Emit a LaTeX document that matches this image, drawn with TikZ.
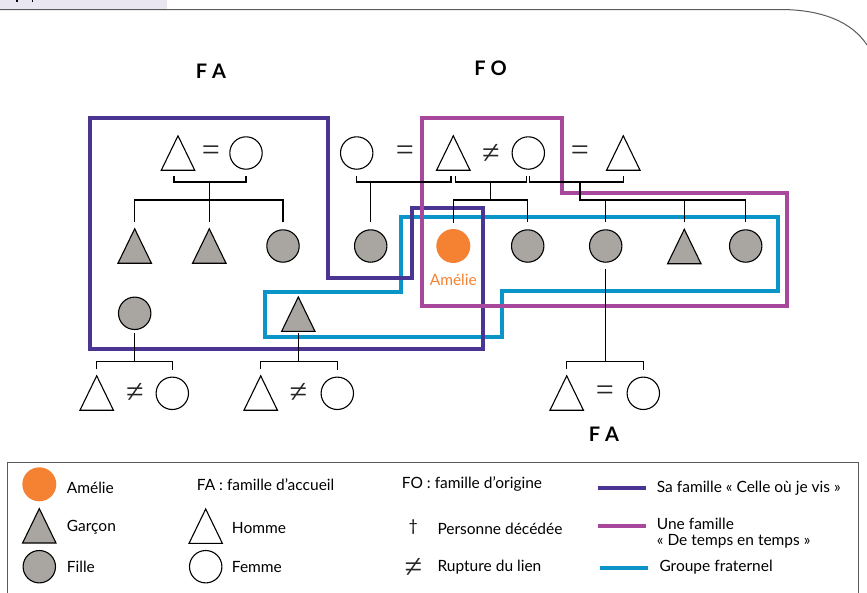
\documentclass[tikz,border=0pt]{standalone}
\usepackage{fontspec}
\setmainfont{Lato}
\newfontfamily\symfont{Liberation Serif}
\usetikzlibrary{calc}
\definecolor{famP}{HTML}{4B3592}
\definecolor{famM}{HTML}{A8489D}
\definecolor{famB}{HTML}{0A94C8}
\definecolor{orgA}{HTML}{F58233}
\definecolor{grayF}{HTML}{A9A5A1}
\definecolor{lav}{HTML}{E9E6F2}
\definecolor{frameG}{HTML}{5A5A5A}
\newcommand{\Tri}[3]{%
  \node[tribox] (#1) at (#2) {};
  \filldraw[symline, fill=#3] (#1.south west) -- (#1.north) -- (#1.south east) -- cycle;}
\begin{document}
\begin{tikzpicture}[x=1pt,y=-1pt,
  symline/.style={draw=black, line width=1.1pt, line join=miter},
  fem/.style={circle, draw=black, line width=1.1pt, minimum size=32.4pt, inner sep=0pt, fill=white},
  girl/.style={fem, fill=grayF},
  me/.style={circle, fill=orgA, minimum size=34pt, inner sep=0pt},
  tribox/.style={minimum width=33pt, minimum height=34pt, inner sep=0pt},
  link/.style={draw=black, line width=1.1pt},
  boxline/.style={line width=4pt, line join=miter},
  rel/.style={font=\symfont\fontsize{32}{32}\selectfont, inner sep=0pt, text=black!85},
  lbl/.style={font=\fontsize{15.5}{16}\selectfont, anchor=west, inner sep=0pt},
  head/.style={font=\fontsize{20}{20}\selectfont\bfseries, inner sep=0pt}]
\useasboundingbox (0,0) rectangle (867,592);

% page header
\fill[lav] (0,0) rectangle (167,9);
\fill[black] (16,0) rectangle (17.6,2.3);
\fill[black] (31.5,0) rectangle (33.1,2.3);
\draw[frameG, line width=1pt] (0,9.5) -- (780,9.5) .. controls (822,9.5) and (852,22) .. (867,45);

% family boxes
\draw[famB, boxline] (401,217) -- (778,217) -- (778,291) -- (502,291) -- (502,337) -- (265,337) -- (265,292) -- (401,292) -- cycle;
\draw[famP, boxline] (90,118) -- (328,118) -- (328,278) -- (412,278) -- (412,208) -- (483,208) -- (483,349) -- (90,349) -- cycle;
\draw[famM, boxline] (422,118) -- (562,118) -- (562,193) -- (787,193) -- (787,306) -- (422,306) -- cycle;

% labels
\node[head] (hFA) at (211,71) {F A};
\node[head] (hFO) at (490.5,68.5) {F O};
\node[head] (hFA2) at (604,434) {F A};

% row 1
\Tri{A1}{178,153}{white}
\node[rel] (eqA) at (211,153) {=};
\node[fem] (A2) at (246,153) {};
\node[fem] (B0) at (356.7,153) {};
\node[rel] (eqB) at (405,153) {=};
\Tri{B1}{453.3,153}{white}
\node[rel] (neB) at (491,154) {≠};
\node[fem] (B2) at (528.3,153) {};
\node[rel] (eqC) at (580,153) {=};
\Tri{B3}{623.3,153}{white}

% row 2
\Tri{C1}{134.7,246}{grayF}
\Tri{C2}{209.3,246}{grayF}
\node[girl] (C3) at (283,246) {};
\node[girl] (D) at (370.7,246) {};
\node[me] (Am) at (453.3,246) {};
\node[orgA, font=\fontsize{15.5}{17}\selectfont, inner sep=0pt] (AmL) at (453.3,280) {Amélie};
\node[girl] (E1) at (527.7,246) {};
\node[girl] (E2) at (605.7,246) {};
\Tri{E3}{684.3,246.5}{grayF}
\node[girl] (E4) at (745.7,246) {};

% row 3
\node[girl] (F1) at (134.7,313.3) {};
\Tri{F2}{298.3,314.2}{grayF}

% row 4
\Tri{G1}{96.7,393}{white}
\node[rel] (neG) at (135,393) {≠};
\node[fem] (G2) at (172.3,393.3) {};
\Tri{H1}{260.7,393}{white}
\node[rel] (neH) at (298.3,393) {≠};
\node[fem] (H2) at (337.3,393.3) {};
\Tri{I1}{566.7,393}{white}
\node[rel] (eqI) at (605,393) {=};
\node[fem] (I2) at (643.3,393.3) {};

% junction coordinates
\coordinate (jA) at (209.3,182);
\coordinate (jAb) at (209.3,200);
\coordinate (jB0) at (370.7,182);
\coordinate (jB) at (490.7,182);
\coordinate (jBb) at (490.7,200);
\coordinate (jC) at (580,182);
\coordinate (jCb) at (580,200);
\coordinate (jE) at (605.7,361.7);
\coordinate (jF) at (134.7,361.7);
\coordinate (jH) at (298.3,361.7);

% connectors
\draw[link] ([xshift=-4pt,yshift=-6pt]A1.south) |- (jA) -| ([yshift=-6pt]A2.south);
\draw[link] (jA) -- (jAb);
\draw[link] ([yshift=7pt]C1.north) |- (jAb) -| ([yshift=7pt]C3.north);
\draw[link] (jAb) -- ([yshift=7pt]C2.north);

\draw[link] ([yshift=-6pt]B0.south) |- (jB0) -| ([xshift=-2.3pt,yshift=-6pt]B1.south);
\draw[link] (jB0) -- ([yshift=7pt]D.north);

\draw[link] ([xshift=2pt,yshift=-6pt]B1.south) |- (jB) -| ([xshift=-1.7pt,yshift=-6pt]B2.south);
\draw[link] (jB) -- (jBb);
\draw[link] ([yshift=6pt]Am.north) |- (jBb) -| ([yshift=7pt]E1.north);

\draw[link] ([xshift=1.2pt,yshift=-6pt]B2.south) |- (jC) -| ([yshift=-6pt]B3.south);
\draw[link] (jC) -- (jCb) -| ([yshift=7pt]E4.north);
\draw[link] (jCb -| E2.north) -- ([yshift=7pt]E2.north);
\draw[link] (jCb -| E3.north) -- ([yshift=7pt]E3.north);

\draw[link] ([yshift=-6pt]E2.south) -- (jE);
\draw[link] ([yshift=7pt]I1.north) |- (jE) -| ([yshift=7pt]I2.north);

\draw[link] ([yshift=-3pt]F1.south) -- (jF);
\draw[link] ([yshift=7pt]G1.north) |- (jF) -| ([yshift=7pt]G2.north);

\draw[link] ([yshift=-1.3pt]F2.south) -- (jH);
\draw[link] ([yshift=7pt]H1.north) |- (jH) -| ([yshift=7pt]H2.north);

% legend
\draw[frameG, line width=1pt] (7.3,600) -- (7.3,462.3) -- (858.3,462.3) -- (858.3,600);
\node[me] (L1) at (39.3,484.3) {};
\node[lbl] (t1) at (66.7,487.7) {Amélie};
\Tri{L2}{39.3,525.8}{grayF}
\node[lbl] (t2) at (66.7,527.7) {Garçon};
\node[girl] (L3) at (39.3,566.7) {};
\node[lbl] (t3) at (66.7,566.7) {Fille};

\node[lbl] (t4) at (196.7,484.3) {FA : famille d’accueil};
\Tri{L4}{205.7,526.2}{white}
\node[lbl] (t5) at (231.7,527.7) {Homme};
\node[fem] (L5) at (205.7,566.7) {};
\node[lbl] (t6) at (231.7,566.7) {Femme};

\node[lbl] (t7) at (401.7,484.3) {FO : famille d’origine};
\node[inner sep=0pt, font=\fontsize{16}{16}\selectfont] (dag) at (413.3,527.5) {†};
\node[lbl] (t8) at (437.3,529) {Personne décédée};
\node[rel] (neL) at (413.3,568) {≠};
\node[lbl] (t9) at (437.3,566.7) {Rupture du lien};

\coordinate (p1) at (598.3,487.7); \coordinate (p2) at (646,487.7);
\draw[famP, line width=4pt] (p1) -- (p2);
\node[lbl] (t10) at (656.7,487.7) {Sa famille «~Celle où je vis~»};
\coordinate (m1) at (598.3,525.7); \coordinate (m2) at (646,525.7);
\draw[famM, line width=4pt] (m1) -- (m2);
\node[lbl, align=left] (t11) at (656.7,533) {Une famille\\«~De temps en temps~»};
\coordinate (b1) at (600,568.3); \coordinate (b2) at (648.3,568.3);
\draw[famB, line width=4pt] (b1) -- (b2);
\node[lbl] (t12) at (659.3,566.7) {Groupe fraternel};
\end{tikzpicture}
\end{document}
